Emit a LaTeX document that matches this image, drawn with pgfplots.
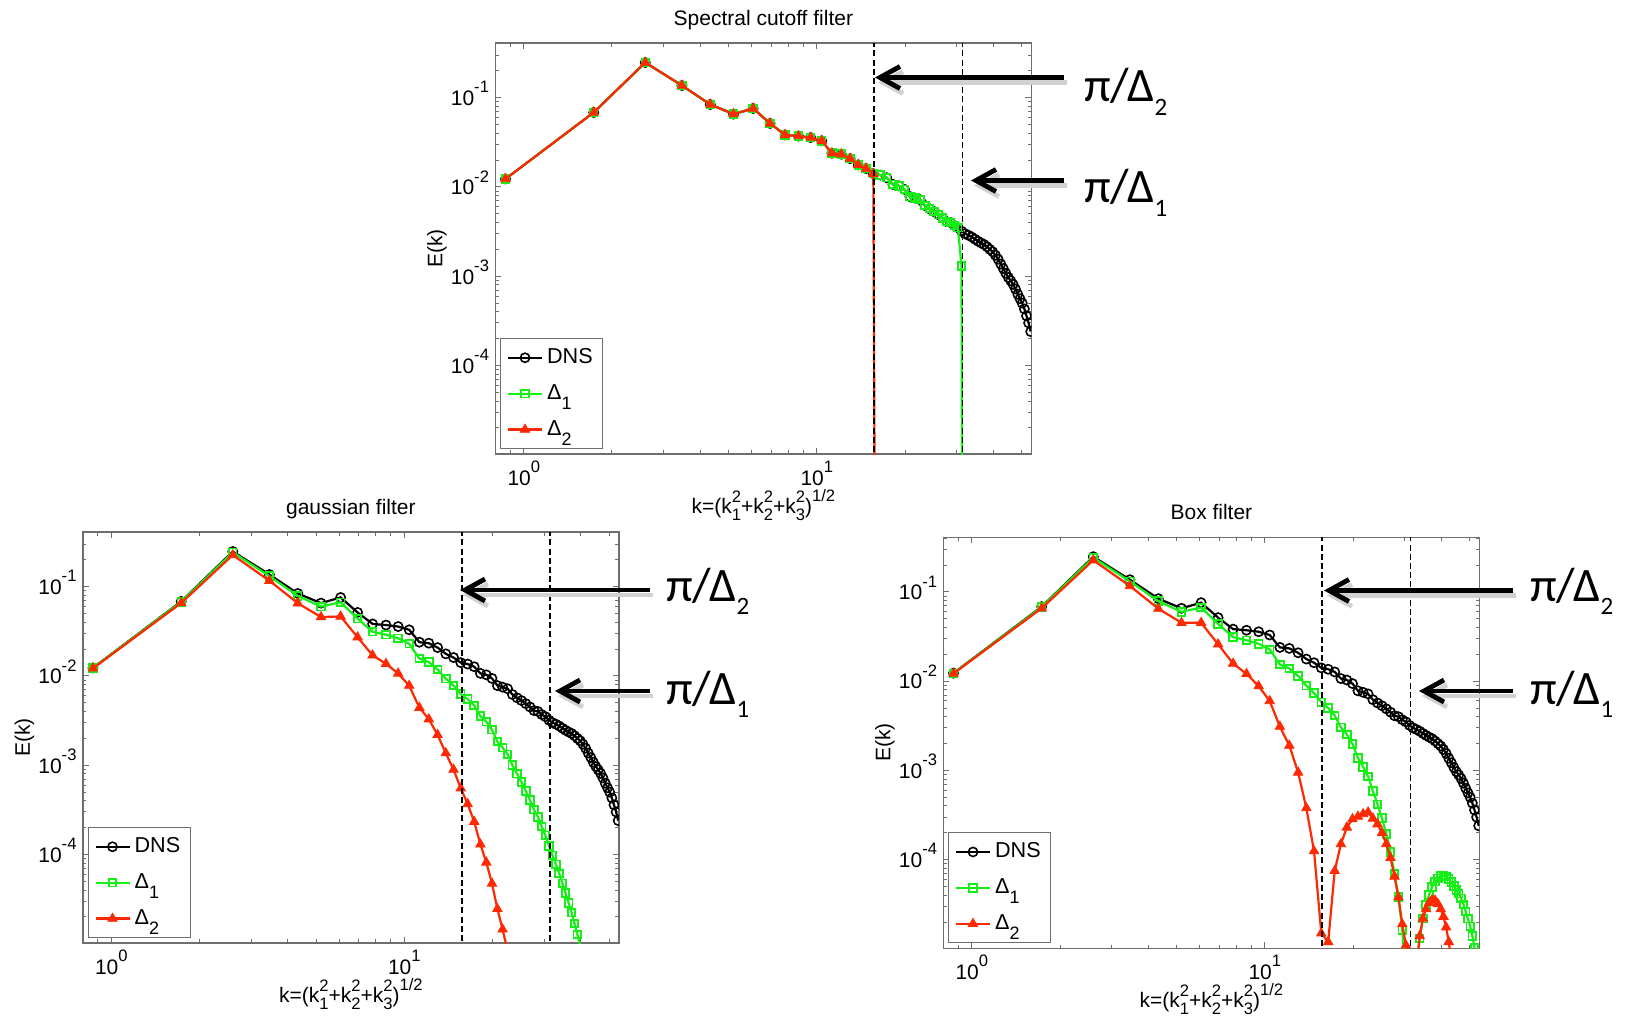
\documentclass[border=0pt]{standalone}
\usepackage{fontspec}
\setmainfont{Liberation Sans}
\newfontfamily\calib{Carlito}
\usepackage{pgfplots}
\pgfplotsset{compat=1.18}
\usepackage{pgfplotstable}
\usetikzlibrary{arrows.meta}

\definecolor{mgreen}{RGB}{20,240,20}
\definecolor{mred}{RGB}{255,40,0}
\definecolor{axgray}{RGB}{110,110,110}

\newcommand{\tl}[1]{10\raisebox{6.3pt}{\fontsize{8.3}{8.3}\selectfont #1}}
\newcommand{\ks}[1]{k\rlap{\raisebox{5.3pt}{\fontsize{8.3}{8.3}\selectfont 2}}\raisebox{-3.8pt}{\fontsize{8.3}{8.3}\selectfont #1}}
\newcommand{\dsub}[1]{Δ\raisebox{-4.8pt}{\fontsize{9}{9}\selectfont #1}}
\newcommand{\pilab}[1]{{\calib\fontsize{24}{24}\selectfont π/Δ\raisebox{-6.8pt}{\fontsize{12.5}{12.5}\selectfont #1}}}

\pgfplotstableread{
k dns sc1 sc2 g1 g2 b1 b2
0.8660 0.0123 0.0123 0.0123 0.01227 0.01218 0.01227 0.01218
1.7321 0.0684 0.0684 0.0684 0.06772 0.06572 0.06772 0.06571
2.5981 0.248 0.248 0.248 0.2425 0.2267 0.2425 0.2265
3.4641 0.137 0.137 0.137 0.1316 0.1167 0.1316 0.1165
4.3301 0.084 0.084 0.084 0.07891 0.06542 0.07889 0.06498
5.1962 0.0655 0.0655 0.0655 0.05986 0.0457 0.05981 0.04511
6.0622 0.0758 0.0758 0.0758 0.06706 0.04644 0.06696 0.04519
6.9282 0.0515 0.0515 0.0515 0.04389 0.02716 0.04378 0.02591
7.7942 0.0383 0.0383 0.0383 0.03128 0.01704 0.03113 0.01576
8.6603 0.0372 0.0372 0.0372 0.02897 0.01369 0.02878 0.01208
9.5263 0.0358 0.0358 0.0358 0.02646 0.01068 0.02622 0.0088
10.3923 0.0329 0.0329 0.0329 0.02295 0.007795 0.02266 0.0060
11.2583 0.0239 0.0239 0.0239 0.01566 0.00441 0.01536 0.0031
12.1244 0.0233 0.0233 0.0233 0.01427 0.003282 0.01389 0.0019
12.9904 0.0208 0.0208 0.0208 0.01185 0.002192 0.01144 0.00095
13.8564 0.0177 0.0177 0.0177 0.009333 0.001368 0.008905 0.00038
14.7224 0.0161 0.0161 0.0161 0.007817 0.000895 0.007356 0.000125
15.5885 0.0141 0.0141 0.0141 0.006273 0.000552 0.005802 0.000015
16.4545 0.0136 0.0136 1e-20 0.005515 0.000368 0.004995 0.000012
17.3205 0.0127 0.0127 nan 0.004672 0.000233 0.004124 0.000075
18.1865 0.0107 0.0107 nan 0.003553 0.00013 0.00304 0.00015
19.0526 0.0103 0.0103 nan 0.003071 0.0000815 0.002533 0.00023
19.9186 0.0094 0.0094 nan 0.002505 0.0000474 0.001974 0.000285
20.7846 0.0078 0.0078 nan 0.001848 0.0000246 0.001379 0.000305
21.6506 0.0075 0.0075 nan 0.001572 0.0000145 0.001098 0.000325
22.5167 0.0072 0.0072 nan 0.001329 0.00000835 0.000857 0.00034
23.3827 0.0062 0.0062 nan 0.001002 0.00000423 0.000587 0.00029
24.2487 0.0057 0.0057 nan 0.000803 nan 0.000418 0.00025
25.1147 0.0053 0.0053 nan 0.000647 nan 0.000292 0.0002
25.9808 0.0049 0.0049 nan 0.000516 nan 0.000194 0.00015
26.8468 0.0045 0.0045 nan 0.000407 nan 0.0001215 0.000105
27.7128 0.0041 0.0041 nan 0.000317 nan 0.0000699 0.000065
28.5788 0.0040 0.0040 nan 0.000263 nan 0.0000384 0.000038
29.4449 0.0037 0.0037 nan 0.000206 nan 0.0000164 0.000019
30.3109 0.0035 0.0035 nan 0.000164 nan 0.00000463 0.000011
31.1769 0.0032 0.0013 nan 0.000125 nan 0.00000019 0.0000002
32.0429 0.0030 1e-20 nan 0.0000979 nan 0.00000115 0.0000011
32.9090 0.00288 nan nan 0.0000779 nan 0.0000059 0.000006
33.7750 0.00275 nan nan 0.0000614 nan 0.0000132 0.000014
34.6410 0.0026 nan nan 0.0000476 nan 0.0000218 0.000022
35.5070 0.00247 nan nan 0.000037 nan 0.000031 0.000028
36.3731 0.00236 nan nan 0.0000287 nan 0.0000404 0.000033
37.2391 0.00227 nan nan 0.0000223 nan 0.0000495 0.0000355
38.1051 0.00214 nan nan 0.0000169 nan 0.0000567 0.000035
38.9711 0.0020 nan nan 0.0000127 nan 0.000062 0.000032
39.8372 0.00188 nan nan 0.00000948 nan 0.0000659 0.000028
40.7032 0.00172 nan nan 0.00000686 nan 0.0000666 0.000023
41.5692 0.00155 nan nan nan nan 0.0000647 0.0000175
42.4352 0.00137 nan nan nan nan 0.0000606 0.000012
43.3013 0.00122 nan nan nan nan 0.000056 0.0000075
44.1673 0.00108 nan nan nan nan 0.0000507 0.000004
45.0333 0.00097 nan nan nan nan 0.0000458 nan
45.8993 0.00089 nan nan nan nan 0.0000416 nan
46.7654 0.00081 nan nan nan nan 0.000037 nan
47.6314 0.00072 nan nan nan nan 0.0000317 nan
48.4974 0.00063 nan nan nan nan 0.0000263 nan
49.3634 0.00056 nan nan nan nan 0.0000218 nan
50.2295 0.0005 nan nan nan nan 0.000018 nan
51.0955 0.00043 nan nan nan nan 0.000014 nan
51.9615 0.00036 nan nan nan nan 0.0000104 nan
52.8275 0.0003 nan nan nan nan 0.0000076 nan
53.6936 0.00024 nan nan nan nan 0.0000052 nan
}\spec

\tikzset{
  dnsstyle/.style={black, line width=1.1pt, mark=o, mark size=2.3pt, mark options={line width=0.8pt, solid}},
  d1style/.style={mgreen, line width=1.1pt, mark=square, mark size=1.9pt, mark options={line width=0.9pt, solid}},
  d2style/.style={mred, line width=1.1pt, mark=triangle*, mark size=2.7pt, mark options={line width=0.4pt, solid}},
  cutstyle/.style={black, line width=0.85pt, dash pattern=on 3pt off 1.6pt},
}

\pgfplotsset{
  legend image code/.code={\draw[mark repeat=2,mark phase=2,#1] plot coordinates {(0pt,0pt) (8.5pt,0pt) (17pt,0pt)};},
  every axis/.append style={
    xmode=log, ymode=log,
    scale only axis, width=268pt, height=205.5pt,
    xmin=0.8, xmax=54, ymin=1.02e-5, ymax=0.41,
    xtick={1,10}, xticklabels={\tl{0},\tl{1}},
    ytick={1e-4,1e-3,1e-2,1e-1}, yticklabels={\tl{-4},\tl{-3},\tl{-2},\tl{-1}},
    minor xtick={0.8,0.9,2,3,4,5,6,7,8,9,20,30,40,50},
    minor ytick={2e-5,3e-5,4e-5,5e-5,6e-5,7e-5,8e-5,9e-5,2e-4,3e-4,4e-4,5e-4,6e-4,7e-4,8e-4,9e-4,2e-3,3e-3,4e-3,5e-3,6e-3,7e-3,8e-3,9e-3,2e-2,3e-2,4e-2,5e-2,6e-2,7e-2,8e-2,9e-2,2e-1,3e-1,4e-1},
    tick align=inside,
    major tick length=3pt, minor tick length=1.8pt,
    tick style={axgray, line width=0.5pt},
    axis line style={axgray, line width=0.6pt},
    ticklabel style={font=\fontsize{10.5}{12}\selectfont},
    xticklabel style={anchor=base, inner sep=0pt, yshift=-15.5pt},
    yticklabel style={anchor=base east, inner sep=0pt, xshift=-3pt, yshift=-3.9pt},
    xlabel={k=(\ks{1}+\ks{2}+\ks{3})\raisebox{5.8pt}{\fontsize{8.3}{8.3}\selectfont 1/2}},
    ylabel={E(k)},
    xlabel style={at={([yshift=-29.5pt]axis description cs:0.5,0)}, anchor=base, inner sep=0pt, font=\fontsize{10.5}{12}\selectfont},
    ylabel style={at={([xshift=-26.5pt]axis description cs:0,0.5)}, anchor=base, inner sep=0pt, font=\fontsize{10.5}{12}\selectfont},
    title style={at={([yshift=3pt]axis description cs:0.5,1)}, anchor=base, inner sep=0pt, font=\fontsize{10.5}{12}\selectfont},
    clip marker paths=true,
    legend cell align=left,
    legend style={at={([xshift=2.5pt,yshift=2.5pt]axis description cs:0,0)}, anchor=south west,
      draw=axgray, line width=0.5pt, fill=white, inner xsep=3pt, inner ysep=3pt, row sep=5pt,
      font=\fontsize{10.8}{12}\selectfont},
  },
}

\newcommand{\myarrow}[3]{%
  \draw[line width=2.4pt, black!18, -{Straight Barb[length=10pt,width=11pt]}] (#1+3,#3+5) -- (#2+3,#3+5);
  \draw[line width=2.4pt, black, -{Straight Barb[length=10pt,width=11pt]}] (#1,#3) -- (#2,#3);
}

\begin{document}
\begin{tikzpicture}
\useasboundingbox (0,0) rectangle (815.5pt,-508pt);

% Spectral cutoff
\begin{axis}[at={(247.7pt,-227pt)}, anchor=south west, title={Spectral cutoff filter}]
\addplot[dnsstyle] table[x=k,y=dns]{\spec};
\addplot[d1style] table[x=k,y=sc1]{\spec};
\addplot[d2style] table[x=k,y=sc2]{\spec};
\addplot[cutstyle, forget plot] coordinates {(15.708,1e-6) (15.708,1)};
\addplot[cutstyle, forget plot] coordinates {(31.416,1e-6) (31.416,1)};
\legend{DNS, \dsub{1}, \dsub{2}}
\end{axis}

% Gaussian
\begin{axis}[at={(41.45pt,-471.5pt)}, anchor=south west, title={gaussian filter}]
\addplot[dnsstyle] table[x=k,y=dns]{\spec};
\addplot[d1style] table[x=k,y=g1]{\spec};
\addplot[d2style] table[x=k,y=g2]{\spec};
\addplot[cutstyle, forget plot] coordinates {(15.708,1e-6) (15.708,1)};
\addplot[cutstyle, forget plot] coordinates {(31.416,1e-6) (31.416,1)};
\legend{DNS, \dsub{1}, \dsub{2}}
\end{axis}

% Box
\begin{axis}[at={(471.7pt,-474.1pt)}, anchor=south west, title={Box filter}]
\addplot[dnsstyle] table[x=k,y=dns]{\spec};
\addplot[d1style] table[x=k,y=b1]{\spec};
\addplot[d2style] table[x=k,y=b2]{\spec};
\addplot[cutstyle, forget plot] coordinates {(15.708,1e-6) (15.708,1)};
\addplot[cutstyle, forget plot] coordinates {(31.416,1e-6) (31.416,1)};
\legend{DNS, \dsub{1}, \dsub{2}}
\end{axis}

\begin{scope}[x=0.5pt, y=-0.5pt]
\myarrow{1064}{875}{77.5}
\myarrow{1064}{971}{180.5}
\myarrow{650}{460}{590}
\myarrow{650}{555}{691}
\myarrow{1513}{1324}{590.5}
\myarrow{1513}{1419}{691}
\node[anchor=base west, inner sep=0pt] at (1084,102) {\pilab{2}};
\node[anchor=base west, inner sep=0pt] at (1084,203) {\pilab{1}};
\node[anchor=base west, inner sep=0pt] at (666,601) {\pilab{2}};
\node[anchor=base west, inner sep=0pt] at (666,704) {\pilab{1}};
\node[anchor=base west, inner sep=0pt] at (1530,601) {\pilab{2}};
\node[anchor=base west, inner sep=0pt] at (1530,704) {\pilab{1}};
\end{scope}
\end{tikzpicture}
\end{document}
